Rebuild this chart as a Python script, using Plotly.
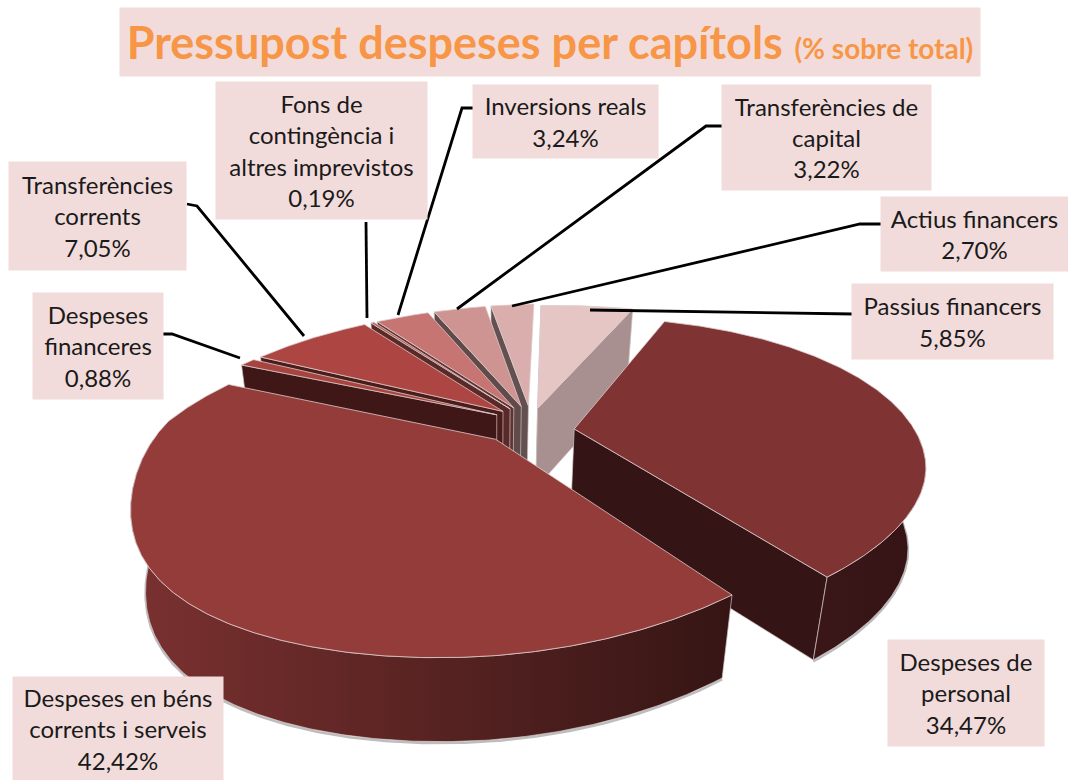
import math

import numpy as np
import plotly.graph_objects as go

# slices, clockwise starting from the top of the pie
CATEGORIES = [
    "Passius financers",
    "Despeses de personal",
    "Despeses en béns corrents i serveis",
    "Despeses financeres",
    "Transferències corrents",
    "Fons de contingència i altres imprevistos",
    "Inversions reals",
    "Transferències de capital",
    "Actius financers",
]
VALUES = [5.85, 34.47, 42.42, 0.88, 7.05, 0.19, 3.24, 3.22, 2.70]

TOP_COLORS = ["#E5C6C5", "#7F3332", "#943C3A", "#A8443F", "#AD4642", "#B85A56", "#C67573", "#CE9492", "#D9AEAC"]
CUT_COLORS = ["#A99090", "#351415", "#351415", "#401717", "#4A1C1A", "#5A2A28", "#5E3533", "#604B4A", "#635050"]
WALL_LEFT = ["#A99090", "#3A1617", "#7A3130", "#401717", "#4A1C1A", "#5A2A28", "#5E3533", "#604B4A", "#635050"]
WALL_RIGHT = ["#A99090", "#351415", "#351514", "#401717", "#4A1C1A", "#5A2A28", "#5E3533", "#604B4A", "#635050"]
EXPLODE = [0.10, 0.14, 0.15, 0.12, 0.12, 0.12, 0.12, 0.12, 0.12]
EXPLODE_TURN = [0, 31, 0, 0, 0, 0, 0, 0, 0]
DRAW_ORDER = [0, 8, 7, 6, 5, 4, 3, 1, 2]

# pie projection
START_ANGLE = -3.7
CX, CY = 531, 422
RADIUS = 335
TILT = 0.42
PERSP = 0.297
SHEAR_FAR = 0.2
SHEAR_NEAR = 0.2
PINCH_LEFT = 0.09
PINCH_RIGHT = 0.1
DEPTH = 80
DEPTH_PERSP = 0.12
VANISH_X = 493
SHRINK = 0.0413

TITLE_MAIN = "Pressupost despeses per capítols"
TITLE_SUB = "(% sobre total)"
LABEL_BG = "#F2DCDB"
ORANGE = "#F79646"
FONT = "Lato"

# label text (without value) and its box: x0, y0, x1, y1
LABELS = [
    ("Passius financers", 0, (853, 285, 1052, 358)),
    ("Despeses de<br>personal", 1, (889, 641, 1043, 745)),
    ("Despeses en béns<br>corrents i serveis", 2, (14, 678, 222, 780)),
    ("Despeses<br>financeres", 3, (34, 294, 162, 398)),
    ("Transferències<br>corrents", 4, (10, 163, 185, 269)),
    ("Fons de<br>contingència i<br>altres imprevistos", 5, (217, 83, 426, 218)),
    ("Inversions reals", 6, (474, 86, 657, 157)),
    ("Transferències de<br>capital", 7, (723, 86, 930, 189)),
    ("Actius financers", 8, (882, 198, 1067, 270)),
]
LEADERS = [
    [(853, 314), (590, 310)],
    [(162, 334), (172, 334), (240, 358)],
    [(187, 204), (197, 206), (304, 336)],
    [(366, 222), (367, 318)],
    [(474, 108), (462, 108), (398, 315)],
    [(723, 126), (706, 126), (457, 309)],
    [(882, 224), (860, 224), (512, 306)],
]


def project(wx, wy, z=0.0):
    f = 1 / (1 + PERSP * wy)
    lift = TILT * RADIUS * wy * f
    shear = SHEAR_FAR if lift > 0 else SHEAR_NEAR
    x = CX + RADIUS * wx * f + shear * lift
    # hand fit, the original's near rim is not a clean ellipse
    x += PINCH_LEFT * RADIUS * max(0, -wx) ** 4 * max(0, -wy)
    x -= PINCH_RIGHT * RADIUS * max(0, wx) * max(0, -wy - 0.25) ** 2
    y = CY - lift + DEPTH * f ** DEPTH_PERSP * z
    x = VANISH_X + (x - VANISH_X) * (1 - SHRINK * z)
    return x, y


def polygon(fig, pts, color, line="rgba(0,0,0,0)", width=0, gradient=None):
    xs = [p[0] for p in pts] + [pts[0][0]]
    ys = [p[1] for p in pts] + [pts[0][1]]
    kw = dict(fillgradient=gradient) if gradient else dict(fillcolor=color)
    fig.add_trace(go.Scatter(x=xs, y=ys, mode="lines", fill="toself", line=dict(color=line, width=width),
                             hoverinfo="skip", showlegend=False, **kw))


def cut_visible(nx, ny, px, py):
    return nx * (0 - px) + ny * (-1 / PERSP - py) > 0


def draw_slice(fig, i, start, sweep):
    end = start + sweep
    mid = math.radians(start + sweep / 2 + EXPLODE_TURN[i])
    ox, oy = EXPLODE[i] * math.sin(mid), EXPLODE[i] * math.cos(mid)
    thetas = np.radians(np.linspace(start, end, max(6, int(sweep * 2))))
    rim = [(ox + math.sin(t), oy + math.cos(t)) for t in thetas]

    # cut faces
    for t, sign, edge in [(thetas[0], -1, rim[0]), (thetas[-1], 1, rim[-1])]:
        nx, ny = sign * math.cos(t), -sign * math.sin(t)
        if cut_visible(nx, ny, ox, oy):
            pts = [project(ox, oy), project(*edge), project(*edge, 1), project(ox, oy, 1)]
            polygon(fig, pts, CUT_COLORS[i], "#CFC2C2", 0.7)

    # outer wall on the near side
    near = [(p, t) for p, t in zip(rim, thetas) if math.cos(t) < 0.0]
    if len(near) > 1:
        top = [project(*p) for p, _ in near]
        bottom = [project(*p, 1) for p, _ in near]
        grad = dict(type="horizontal", colorscale=[[0, WALL_LEFT[i]], [1, WALL_RIGHT[i]]])
        fig.add_trace(go.Scatter(x=[p[0] for p in bottom], y=[p[1] + 1.5 for p in bottom], mode="lines",
                                 line=dict(color="#BDBDBD", width=2.5), hoverinfo="skip", showlegend=False))
        polygon(fig, top + bottom[::-1], WALL_LEFT[i], "#CFC2C2", 0.7, grad)

    pts = [project(ox, oy)] + [project(*p) for p in rim]
    polygon(fig, pts, TOP_COLORS[i], "#DCCCCC", 0.8)


fig = go.Figure()

angle = START_ANGLE
starts = []
for v in VALUES:
    starts.append(angle)
    angle += v / sum(VALUES) * 360
for i in DRAW_ORDER:
    draw_slice(fig, i, starts[i], VALUES[i] / sum(VALUES) * 360)

annotations = [
    dict(x=550, y=42, xref="x", yref="y", showarrow=False, width=858, height=66, bgcolor=LABEL_BG,
         text=f"<b>{TITLE_MAIN}</b> <b><span style='font-size:28px'>{TITLE_SUB}</span></b>",
         font=dict(family=FONT, size=45, color=ORANGE)),
]
for text, idx, (x0, y0, x1, y1) in LABELS:
    value = f"{VALUES[idx]:.2f}".replace(".", ",") + "%"
    annotations.append(dict(
        x=(x0 + x1) / 2, y=(y0 + y1) / 2, xref="x", yref="y", showarrow=False,
        width=x1 - x0, height=y1 - y0, bgcolor=LABEL_BG, align="center", valign="middle",
        text=f"{text}<br>{value}", font=dict(family=FONT, size=24, color="#1A1A1A"),
    ))

shapes = []
for pts in LEADERS:
    path = "M " + " L ".join(f"{x},{y}" for x, y in pts)
    shapes.append(dict(type="path", path=path, xref="x", yref="y", line=dict(color="#000000", width=2.8)))

fig.update_layout(
    width=1068,
    height=780,
    margin=dict(l=0, r=0, t=0, b=0),
    paper_bgcolor="#FFFFFF",
    plot_bgcolor="#FFFFFF",
    showlegend=False,
    xaxis=dict(range=[0, 1068], visible=False, fixedrange=True),
    yaxis=dict(range=[780, 0], visible=False, fixedrange=True),
    annotations=annotations,
    shapes=shapes,
)

fig.write_html("out.html", config=dict(displayModeBar=False), post_script="document.body.style.margin='0';")
